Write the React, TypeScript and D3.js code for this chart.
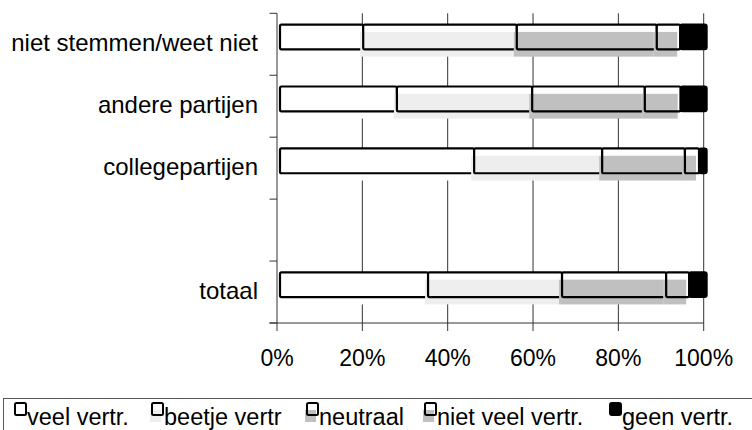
import React from "react";
import * as d3 from "d3";

const categories = ["niet stemmen/weet niet", "andere partijen", "collegepartijen", "", "totaal"];
const seriesNames = ["veel vertr.", "beetje vertr", "neutraal", "niet veel vertr.", "geen vertr."];
const veelVertr = [19.5, 27.4, 45.5, null, 34.7];
const beetjeVertr = [36.0, 31.7, 30.0, null, 31.4];
const neutraal = [32.8, 26.4, 19.4, null, 24.4];
const nietVeelVertr = [5.5, 8.4, 3.3, null, 5.4];
const geenVertr = [6.2, 6.1, 1.8, null, 4.1];
const xTicks = [0, 20, 40, 60, 80, 100];
const fills = ["#ffffff", "#eeeeee", "#c0c0c0", "#c0c0c0", "#000000"];
const legendX = [15, 152, 307, 425, 610];

const W = 752;
const H = 430;
const FONT = "'Liberation Sans', Arial, Helvetica, sans-serif";

export default function App() {
  const series = [veelVertr, beetjeVertr, neutraal, nietVeelVertr, geenVertr];
  const x = d3.scaleLinear().domain([0, 100]).range([277, 703.7]);
  const y = d3.scaleBand<string>().domain(categories.map((c, i) => String(i))).range([13.3, 323]).paddingInner(0.6).paddingOuter(0.3);
  const bw = y.bandwidth();
  const oDx = 3;
  const oDy = -7.3;

  const rows = categories.map((c, i) => {
    const vals = series.map((s) => s[i]);
    if (vals.some((v) => v == null)) return null;
    const stack: { s: number; x0: number; x1: number }[] = [];
    let acc = 0;
    vals.forEach((v, s) => {
      stack.push({ s, x0: acc, x1: acc + (v as number) });
      acc += v as number;
    });
    return { i, stack };
  });

  const slotEdges = d3.range(categories.length + 1).map((k) => 13.3 + k * (310 - 0.3) / categories.length);

  return (
    <svg width={W} height={H} style={{ position: "absolute", left: 0, top: 0, background: "#fff" }} fontFamily={FONT}>
      {xTicks.filter((t) => t > 0).map((t) => (
        <line key={"g" + t} x1={x(t)} x2={x(t)} y1={13.3} y2={323} stroke="#333" strokeWidth={1} />
      ))}
      {rows.map((r) => {
        if (!r) return null;
        const y0 = y(String(r.i)) as number;
        return (
          <g key={"r" + r.i}>
            {r.stack.map((seg) => {
              const ox0 = x(seg.x0) + oDx;
              const ox1 = x(seg.x1) + oDx;
              const oy = y0 + oDy;
              if (seg.s === 4) {
                return (
                  <rect key={seg.s} x={ox0} y={oy} width={ox1 - ox0} height={bw} fill="#000" stroke="#000" strokeWidth={2} rx={2} />
                );
              }
              return (
                <g key={seg.s}>
                  <rect x={ox0} y={oy} width={ox1 - ox0} height={bw} fill="#fff" />
                  <rect x={x(seg.x0)} y={y0} width={x(seg.x1) - x(seg.x0)} height={bw} fill={fills[seg.s]} />
                  <rect x={ox0} y={oy} width={ox1 - ox0} height={bw} fill="none" stroke="#000" strokeWidth={2.2} rx={1.5} />
                </g>
              );
            })}
          </g>
        );
      })}
      <line x1={277} x2={277} y1={13.3} y2={323} stroke="#333" strokeWidth={1} />
      {slotEdges.map((e, k) => (
        <line key={"yt" + k} x1={269.5} x2={277} y1={e} y2={e} stroke="#333" strokeWidth={1} />
      ))}
      {categories.map((c, i) =>
        c ? (
          <text key={"c" + i} x={258} y={(y(String(i)) as number) + bw / 2 + 6.5} fontSize={24} textAnchor="end" fill="#000">
            {c}
          </text>
        ) : null
      )}
      <line x1={269.5} x2={x(100)} y1={323} y2={323} stroke="#333" strokeWidth={1} />
      {xTicks.map((t) => (
        <g key={"xt" + t}>
          <line x1={x(t)} x2={x(t)} y1={323} y2={331} stroke="#333" strokeWidth={1} />
          <text x={x(t)} y={365.7} fontSize={23} textAnchor="middle" fill="#000">
            {t + "%"}
          </text>
        </g>
      ))}
      <rect x={3.5} y={398.5} width={780} height={60} fill="#fff" stroke="#555" strokeWidth={1} />
      {seriesNames.map((n, s) => {
        const lx = legendX[s];
        return (
          <g key={"l" + s}>
            {s === 4 ? (
              <rect x={lx} y={403} width={11} height={12} fill="#000" stroke="#000" strokeWidth={2} rx={2} />
            ) : (
              <>
                <rect x={lx - 2} y={410} width={11} height={12} fill={fills[s]} />
                <rect x={lx} y={403} width={11} height={12} fill="none" stroke="#000" strokeWidth={2} rx={1.5} />
              </>
            )}
            <text x={lx + 12} y={425} fontSize={23.5} fill="#000">
              {n}
            </text>
          </g>
        );
      })}
    </svg>
  );
}
